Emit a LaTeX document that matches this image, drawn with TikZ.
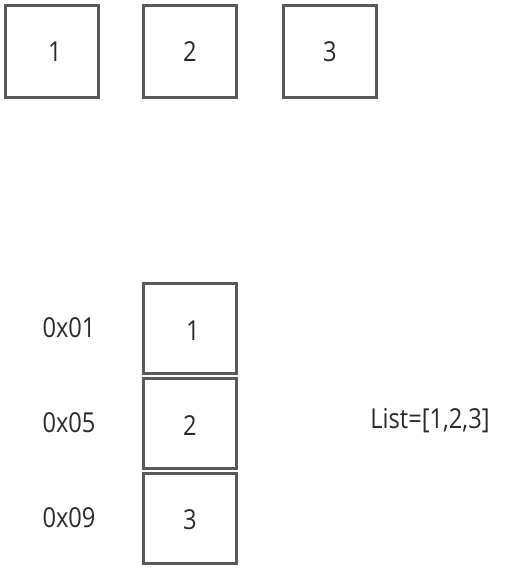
\documentclass[tikz,border=0pt]{standalone}
\usepackage{fontspec}
\setmainfont{Open Sans}[FakeStretch=0.86]
\definecolor{boxgray}{HTML}{595959}
\definecolor{txt}{HTML}{2B2B2B}
\tikzset{
  cell/.style={draw=boxgray, line width=3pt, minimum width=93pt, minimum height=91pt, inner sep=0pt, fill=white},
  lbl/.style={text=txt, font=\fontsize{27.5pt}{32pt}\selectfont, inner sep=0pt, anchor=base}
}
\begin{document}
\begin{tikzpicture}[x=1pt,y=-1pt]
\useasboundingbox[fill=white] (0,0) rectangle (518,570);
% top row
\node[cell, minimum height=92pt] (t1) at (52,51.3) {};
\node[cell, minimum height=92pt] (t2) at (190,51.3) {};
\node[cell, minimum height=92pt] (t3) at (330,51.3) {};
\node[lbl] (t1l) at (55,61.7) {1};
\node[lbl] (t2l) at (190,61.7) {2};
\node[lbl] (t3l) at (330,61.7) {3};
% bottom column
\node[cell, minimum height=90pt] (b1) at (190,328.5) {};
\node[cell, minimum height=90pt] (b2) at (190,423.5) {};
\node[cell, minimum height=90pt] (b3) at (190,518.5) {};
\node[lbl] (b1l) at (193,340) {1};
\node[lbl] (b2l) at (190,435) {2};
\node[lbl] (b3l) at (190,529) {3};
% addresses
\node[lbl] (a1) at (69,337.3) {0x01};
\node[lbl] (a2) at (69,432.3) {0x05};
\node[lbl] (a3) at (69,527.3) {0x09};
% list
\node[lbl] (list) at (430,428) {List=[1,2,3]};
\end{tikzpicture}
\end{document}
